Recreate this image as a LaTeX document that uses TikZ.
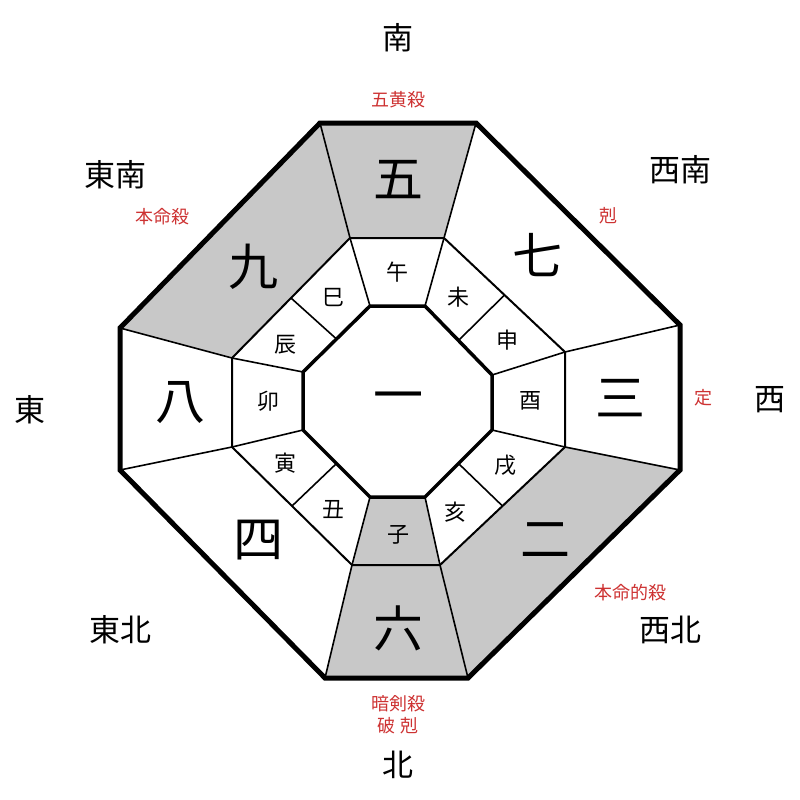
\documentclass[tikz,border=0pt]{standalone}
\usepackage{fontspec}
\newfontfamily\cjk{Noto Sans CJK JP}
\usetikzlibrary{calc}
\definecolor{lbl}{RGB}{205,50,50}
\definecolor{greyfill}{RGB}{200,200,200}
\begin{document}
\begin{tikzpicture}[x=1pt,y=-1pt,
 big/.style={font=\cjk\fontsize{50}{50}\selectfont},
 dir/.style={font=\cjk\fontsize{31}{31}\selectfont},
 br/.style={font=\cjk\fontsize{22}{22}\selectfont},
 redlbl/.style={font=\cjk\fontsize{18}{22}\selectfont,text=lbl,align=center}]
\useasboundingbox (0,0) rectangle (800,800);
\coordinate (O1) at (320,123); \coordinate (O2) at (476,123);
\coordinate (O3) at (680,325); \coordinate (O4) at (680,470);
\coordinate (O5) at (468,678); \coordinate (O6) at (325,678);
\coordinate (O7) at (120,470); \coordinate (O8) at (120,328);
\coordinate (M1) at (350,238); \coordinate (M2) at (444,238);
\coordinate (M3) at (565,352); \coordinate (M4) at (565,447);
\coordinate (M5) at (440,565); \coordinate (M6) at (352,565);
\coordinate (M7) at (232,447); \coordinate (M8) at (232,358);
\coordinate (I1) at (370,306); \coordinate (I2) at (425,306);
\coordinate (I3) at (492,375); \coordinate (I4) at (492,430);
\coordinate (I5) at (425,497); \coordinate (I6) at (370,497);
\coordinate (I7) at (303,430); \coordinate (I8) at (303,372);
\fill[greyfill] (O1)--(O2)--(M2)--(M1)--cycle;
\fill[greyfill] (O8)--(O1)--(M1)--(M8)--cycle;
\fill[greyfill] (O4)--(O5)--(M5)--(M4)--cycle;
\fill[greyfill] (O5)--(O6)--(M6)--(M5)--cycle;
\fill[greyfill] (I5)--(I6)--(M6)--(M5)--cycle;
\draw[line width=2pt] (M1)--(M2)--(M3)--(M4)--(M5)--(M6)--(M7)--(M8)--cycle;
\foreach \k in {1,...,8}{\draw[line width=1.6pt] (M\k)--(O\k); \draw[line width=1.6pt] (I\k)--(M\k);}
\draw[line width=1.6pt] ($(I2)!0.5!(I3)$)--($(M2)!0.5!(M3)$);
\draw[line width=1.6pt] ($(I4)!0.5!(I5)$)--($(M4)!0.5!(M5)$);
\draw[line width=1.6pt] ($(I6)!0.5!(I7)$)--($(M6)!0.5!(M7)$);
\draw[line width=1.6pt] ($(I8)!0.5!(I1)$)--($(M8)!0.5!(M1)$);
\draw[line width=3.5pt] (I1)--(I2)--(I3)--(I4)--(I5)--(I6)--(I7)--(I8)--cycle;
\draw[line width=5pt,line join=miter] (O1)--(O2)--(O3)--(O4)--(O5)--(O6)--(O7)--(O8)--cycle;
\node[big] (n5) at (398,180) {五};
\node[big] (n7) at (537,255) {七};
\node[big] (n3) at (620,398) {三};
\node[big] (n2) at (545,540) {二};
\node[big] (n6) at (398,628) {六};
\node[big] (n4) at (258,540) {四};
\node[big] (n8) at (180,403) {八};
\node[big] (n9) at (253,267) {九};
\node[big] (n1) at (398,403) {一};
\node[br] (b1) at (397,272) {午};
\node[br] (b2) at (458,297) {未};
\node[br] (b3) at (507,340) {申};
\node[br] (b4) at (530,401) {酉};
\node[br] (b5) at (505,465) {戌};
\node[br] (b6) at (455,512) {亥};
\node[br] (b7) at (398,535) {子};
\node[br] (b8) at (333,510) {丑};
\node[br] (b9) at (285,463) {寅};
\node[br] (b10) at (268,401) {卯};
\node[br] (b11) at (285,345) {辰};
\node[br] (b12) at (333,298) {巳};
\node[dir] (dS) at (398,38) {南};
\node[dir] (dSE) at (115,175) {東南};
\node[dir] (dSW) at (680,170) {西南};
\node[dir] (dE) at (30,410) {東};
\node[dir] (dW) at (770,400) {西};
\node[dir] (dNE) at (120,630) {東北};
\node[dir] (dNW) at (670,630) {西北};
\node[dir] (dN) at (398,765) {北};
\node[redlbl] (r1) at (398,100) {五黄殺};
\node[redlbl] (r2) at (162,217) {本命殺};
\node[redlbl] (r3) at (608,216) {剋};
\node[redlbl] (r4) at (703,398) {定};
\node[redlbl] (r5) at (630,593) {本命的殺};
\node[redlbl] (r6) at (398,715) {暗剣殺\\破 剋};
\end{tikzpicture}
\end{document}
